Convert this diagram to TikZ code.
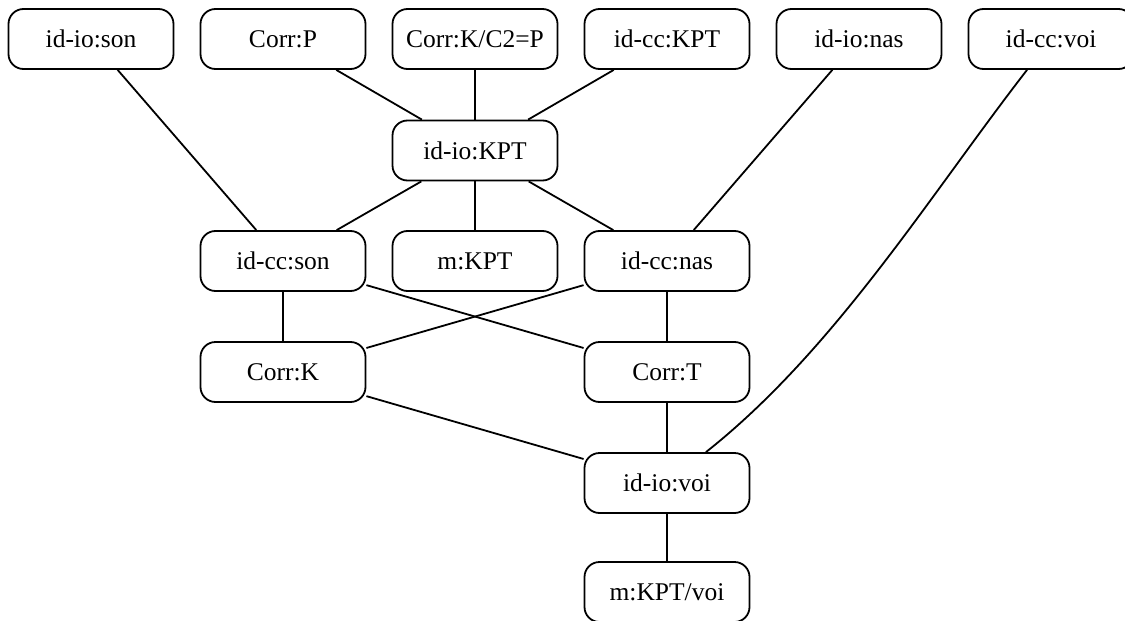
\documentclass[tikz,border=0pt]{standalone}
\usepackage{fontspec}
\setmainfont{Liberation Serif}
\begin{document}
\begin{tikzpicture}[x=1pt,y=-1pt,
  box/.style={draw=black, line width=1.8pt, rounded corners=15pt, minimum width=165pt, minimum height=60pt, inner sep=0pt, font=\fontsize{25.5}{30}\selectfont},
  edge/.style={draw=black, line width=1.8pt}]
\useasboundingbox (0,0) rectangle (1125,621);
% row 1
\node[box] (ioson) at (91,39) {id-io:son};
\node[box] (corrP) at (283,39) {Corr:P};
\node[box] (corrKC) at (475,39) {Corr:K/C2=P};
\node[box] (ccKPT) at (667,39) {id-cc:KPT};
\node[box] (ionas) at (859,39) {id-io:nas};
\node[box] (ccvoi) at (1051,39) {id-cc:voi};
% row 2
\node[box] (ioKPT) at (475,150.5) {id-io:KPT};
% row 3
\node[box] (ccson) at (283,261) {id-cc:son};
\node[box] (mKPT) at (475,261) {m:KPT};
\node[box] (ccnas) at (667,261) {id-cc:nas};
% row 4
\node[box] (corrK) at (283,372) {Corr:K};
\node[box] (corrT) at (667,372) {Corr:T};
% row 5
\node[box] (iovoi) at (667,483) {id-io:voi};
% row 6
\node[box] (mKPTvoi) at (667,592) {m:KPT/voi};
% edges
\draw[edge] (corrP) -- (ioKPT);
\draw[edge] (corrKC) -- (ioKPT);
\draw[edge] (ccKPT) -- (ioKPT);
\draw[edge] (ioson) -- (ccson);
\draw[edge] (ioKPT) -- (ccson);
\draw[edge] (ioKPT) -- (mKPT);
\draw[edge] (ioKPT) -- (ccnas);
\draw[edge] (ionas) -- (ccnas);
\draw[edge] (ccson) -- (corrK);
\draw[edge] (ccson) -- (corrT);
\draw[edge] (ccnas) -- (corrK);
\draw[edge] (ccnas) -- (corrT);
\draw[edge] (corrK) -- (iovoi);
\draw[edge] (corrT) -- (iovoi);
\draw[edge] (ccvoi) .. controls (930,195) and (835,350) .. (iovoi);
\draw[edge] (iovoi) -- (mKPTvoi);
\end{tikzpicture}
\end{document}
